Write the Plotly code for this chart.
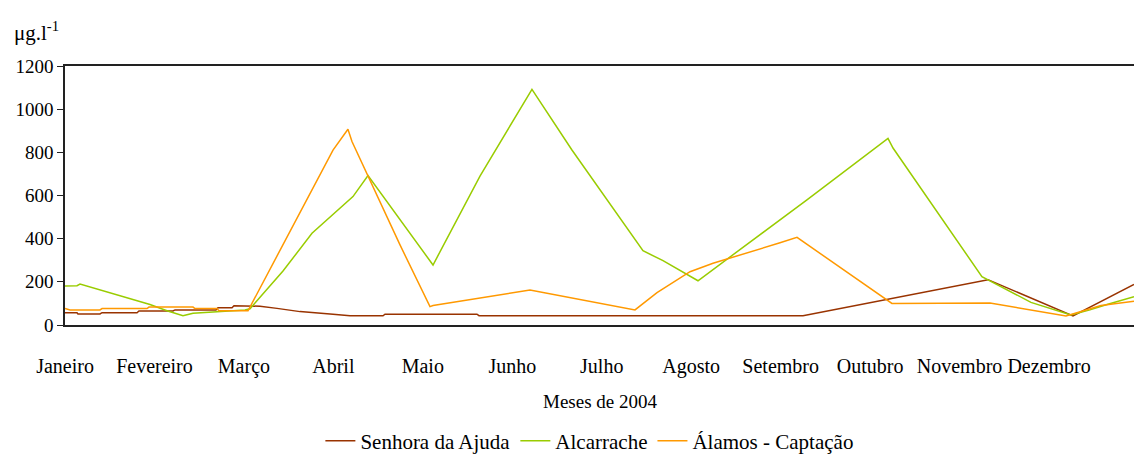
import plotly.graph_objects as go

# Month tick labels (x = months elapsed since 1 Jan 2004)
months = ["Janeiro", "Fevereiro", "Março", "Abril", "Maio", "Junho", "Julho",
          "Agosto", "Setembro", "Outubro", "Novembro", "Dezembro"]
month_pos = list(range(12))

# Senhora da Ajuda
sa_x = [0.0, 0.134, 0.145, 0.391, 0.414, 0.805, 0.827, 1.207, 1.230, 1.688, 1.710,
        1.867, 1.889, 2.180, 2.370, 2.627, 2.996, 3.186, 3.555, 3.577, 4.605, 4.628,
        8.250, 10.318, 11.268, 11.950]
sa_y = [57, 57, 51, 51, 57, 57, 65, 65, 70, 70, 80,
        80, 89, 87, 77, 62, 50, 43, 43, 50, 50, 43,
        43, 210, 42, 188]

# Alcarrache
al_x = [0.0, 0.134, 0.168, 0.950, 1.140, 1.319, 1.431, 1.699, 2.012, 2.068, 2.437,
        2.761, 3.219, 3.387, 4.114, 4.639, 5.220, 5.667, 6.461, 6.685, 7.076, 8.294,
        9.200, 9.256, 9.591, 10.250, 10.798, 11.245, 11.458, 11.648, 11.950]
al_y = [181, 182, 190, 95, 66, 43, 54, 60, 70, 75, 250,
        425, 595, 692, 278, 690, 1092, 811, 344, 298, 205, 580,
        865, 820, 618, 224, 105, 46, 70, 95, 131]

# Álamos - Captação
am_x = [0.0, 0.056, 0.391, 0.414, 0.917, 0.939, 1.431, 1.453, 1.699, 1.721, 2.046,
        2.437, 2.739, 2.996, 3.163, 3.208, 3.745, 4.080, 4.114, 5.198, 6.372, 6.618,
        6.987, 7.244, 7.993, 8.183, 9.244, 10.340, 11.190, 11.581, 11.950]
am_y = [77, 70, 70, 76, 76, 83, 83, 76, 76, 66, 66,
        370, 610, 810, 907, 850, 371, 85, 90, 162, 70, 150,
        247, 286, 381, 406, 100, 102, 42, 90, 110]

y_ticks = [0, 200, 400, 600, 800, 1000, 1200]

FONT = "Times New Roman"

fig = go.Figure()
fig.add_trace(go.Scatter(x=sa_x, y=sa_y, mode="lines", name="Senhora da Ajuda",
                         line=dict(color="#993300", width=1.5)))
fig.add_trace(go.Scatter(x=al_x, y=al_y, mode="lines", name="Alcarrache",
                         line=dict(color="#99CC00", width=1.5)))
fig.add_trace(go.Scatter(x=am_x, y=am_y, mode="lines", name="Álamos - Captação",
                         line=dict(color="#FF9900", width=1.5)))

fig.update_layout(
    width=1134, height=455,
    margin=dict(l=65, r=0, t=66, b=130, autoexpand=False),
    paper_bgcolor="white", plot_bgcolor="white",
    font=dict(family=FONT, size=19, color="black"),
    showlegend=True,
    legend=dict(orientation="h", x=0.491, xanchor="center", y=-0.448, yanchor="middle",
                font=dict(family=FONT, size=21, color="black"),
                itemwidth=30, tracegroupgap=0, bgcolor="rgba(0,0,0,0)"),
    xaxis=dict(range=[0, 11.95], tickmode="array", tickvals=month_pos, ticktext=months,
               tickangle=0, showgrid=False, zeroline=False, showline=True,
               linecolor="#222222", linewidth=1.5, mirror=True, ticks="",
               automargin=False,
               ticklabelstandoff=22, tickfont=dict(family=FONT, size=20, color="black")),
    yaxis=dict(range=[0, 1200], tickmode="array", tickvals=y_ticks, automargin=False,
               showgrid=False, zeroline=False, showline=True, linecolor="#222222",
               linewidth=1.5, ticks="outside", ticklen=6, tickcolor="#222222",
               tickfont=dict(family=FONT, size=19, color="black")),
    annotations=[
        dict(text="μg.l<sup>-1</sup>", xref="paper", yref="paper", x=-0.050, y=1.135,
             xanchor="left", yanchor="middle", showarrow=False,
             font=dict(family=FONT, size=21, color="black")),
        dict(text="Meses de 2004", xref="paper", yref="paper", x=0.5, y=-0.297,
             xanchor="center", yanchor="middle", showarrow=False,
             font=dict(family=FONT, size=19, color="black")),
    ],
)

fig.write_html(
    "out.html",
    config={"displayModeBar": False},
    post_script="document.body.style.margin='0';document.body.style.padding='0';",
)
